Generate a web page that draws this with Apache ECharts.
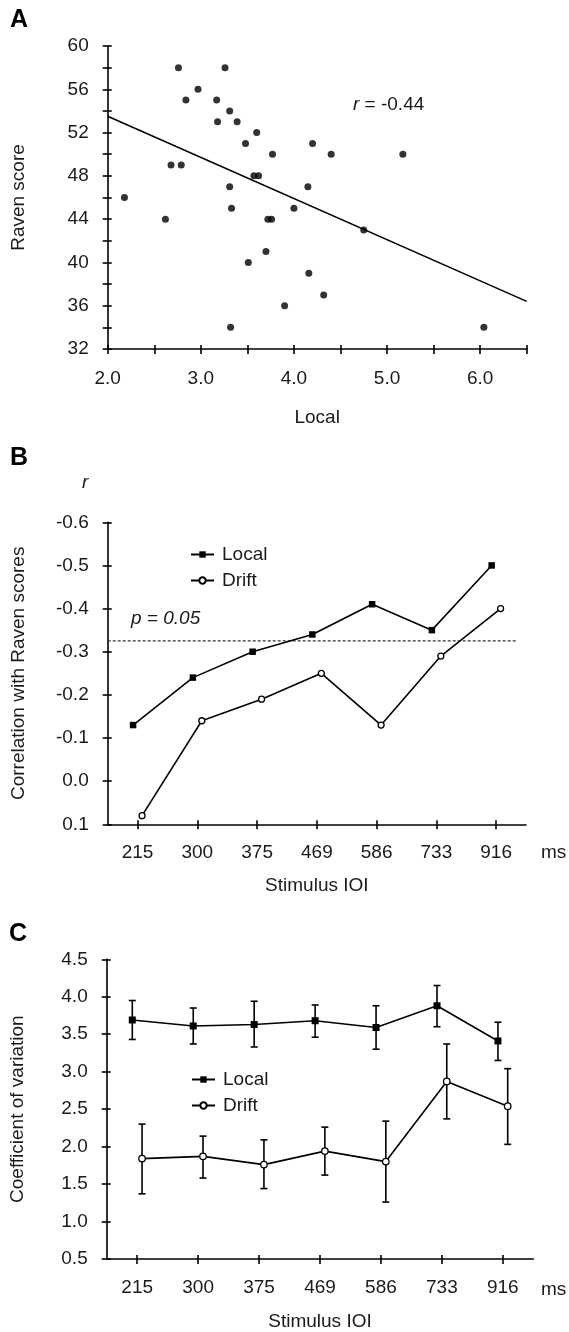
<!DOCTYPE html>
<html><head><meta charset="utf-8">
<script src="https://cdn.jsdelivr.net/npm/echarts@6/dist/echarts.min.js"></script>
<style>html,body{margin:0;padding:0;background:#fff}#c{width:569px;height:1332px}</style>
</head><body><div id="c"></div>
<script>
// ---- Panel A data ----
const localScore = [2.18,2.62,2.68,2.79,2.76,2.84,2.97,3.17,3.18,3.26,3.31,3.39,3.31,3.33,3.32,3.48,3.51,3.60,3.57,3.62,3.77,3.72,3.76,3.70,3.90,4.20,4.40,5.17,4.15,4.00,4.75,4.16,4.32,6.04];
const ravenScore = [46,44,49,49,58,55,56,55,53,58,54,53,47,45,34,51,40,52,48,48,50,44,44,41,36,51,50,50,47,45,43,39,37,34];
const fitX = [2.0, 6.5];
const fitY = [53.5, 36.4];
const rValue = '-0.44';
// ---- Panel B data ----
const ioi = ['215','300','375','469','586','733','916'];
const corrLocal = [-0.13,-0.24,-0.30,-0.34,-0.41,-0.35,-0.50];
const corrDrift = [0.08,-0.14,-0.19,-0.25,-0.13,-0.29,-0.40];
const pThreshold = -0.325;
const pLabel = 'p = 0.05';
// ---- Panel C data ----
const cvLocal   = [3.69,3.61,3.63,3.68,3.59,3.88,3.41];
const cvLocalLo = [3.43,3.37,3.33,3.46,3.30,3.60,3.15];
const cvLocalHi = [3.95,3.85,3.94,3.89,3.88,4.15,3.66];
const cvDrift   = [1.84,1.87,1.76,1.94,1.80,2.87,2.54];
const cvDriftLo = [1.37,1.58,1.44,1.62,1.26,2.37,2.03];
const cvDriftHi = [2.30,2.14,2.09,2.26,2.34,3.37,3.04];

const FONT = "'Liberation Sans', Arial, Helvetica, sans-serif";
const TXT = '#1a1a1a';
const INK = '#000';
const FS = 19;

const chart = echarts.init(document.getElementById('c'), null, {renderer:'canvas'});

const lineStyleAxis = {color: INK, width: 1.6};
function mainAxis(extra){
  return Object.assign({
    axisLine:{show:true, onZero:false, lineStyle:lineStyleAxis},
    axisTick:{show:true, length:5, lineStyle:lineStyleAxis},
    axisLabel:{color:TXT, fontSize:FS, fontFamily:FONT, margin:19},
    splitLine:{show:false},
    nameTextStyle:{color:TXT, fontSize:FS, fontFamily:FONT},
    nameLocation:'middle'
  }, extra);
}
function innerAxis(extra){
  return Object.assign({
    axisLine:{show:false, onZero:false},
    axisTick:{show:true, inside:true, length:4, lineStyle:lineStyleAxis},
    axisLabel:{show:false},
    splitLine:{show:false}
  }, extra);
}
const fmt1 = v => v.toFixed(1);

const shiftB = 0.075, shiftC = 0.08;
const idx = ioi.map((_, i) => i);

function errRender(params, api){
  const x = api.value(0), lo = api.value(1), hi = api.value(2);
  const p1 = api.coord([x, lo]), p2 = api.coord([x, hi]);
  const cap = 3.5;
  const st = {stroke: INK, lineWidth: 1.6};
  return {type:'group', children:[
    {type:'line', shape:{x1:p1[0], y1:p1[1], x2:p2[0], y2:p2[1]}, style:st},
    {type:'line', shape:{x1:p1[0]-cap, y1:p1[1], x2:p1[0]+cap, y2:p1[1]}, style:st},
    {type:'line', shape:{x1:p2[0]-cap, y1:p2[1], x2:p2[0]+cap, y2:p2[1]}, style:st}
  ]};
}

const legendBase = {orient:'vertical', itemWidth:23, itemHeight:8, itemGap:7,
  data:['Local','Drift'], selectedMode:false,
  textStyle:{color:TXT, fontSize:FS, fontFamily:FONT, padding:[0,0,0,3]}};

const option = {
  backgroundColor:'#fff',
  animation:false,
  textStyle:{fontFamily:FONT},
  grid:[
    {left:107.7, top:46, width:419, height:303},
    {left:107.7, top:522.3, width:418.3, height:302},
    {left:106.7, top:959.3, width:426.6, height:303.4}
  ],
  xAxis:[
    mainAxis({gridIndex:0, type:'value', position:'bottom', min:2, max:6.5, interval:0.5,
      axisLabel:{color:TXT, fontSize:FS, fontFamily:FONT, margin:20,
        formatter: v => Math.abs(v - Math.round(v)) < 1e-6 ? v.toFixed(1) : ''},
      name:'Local', nameGap:59}),
    innerAxis({gridIndex:0, type:'value', position:'bottom', min:2, max:6.5, interval:0.5}),
    mainAxis({gridIndex:1, type:'category', position:'bottom', data:ioi, boundaryGap:true,
      axisTick:{show:true, length:5, alignWithLabel:true, lineStyle:lineStyleAxis},
      name:'Stimulus IOI', nameGap:52}),
    innerAxis({gridIndex:1, type:'category', position:'bottom', data:ioi, boundaryGap:true,
      axisTick:{show:true, inside:true, length:4, alignWithLabel:true, lineStyle:lineStyleAxis}}),
    {gridIndex:1, type:'value', min:-0.5, max:6.5, show:false},
    mainAxis({gridIndex:2, type:'category', position:'bottom', data:ioi, boundaryGap:true,
      axisTick:{show:true, length:5, alignWithLabel:true, lineStyle:lineStyleAxis},
      name:'Stimulus IOI', nameGap:53}),
    innerAxis({gridIndex:2, type:'category', position:'bottom', data:ioi, boundaryGap:true,
      axisTick:{show:true, inside:true, length:4, alignWithLabel:true, lineStyle:lineStyleAxis}}),
    {gridIndex:2, type:'value', min:-0.5, max:6.5, show:false}
  ],
  yAxis:[
    mainAxis({gridIndex:0, type:'value', position:'left', min:32, max:60, interval:2,
      axisLabel:{color:TXT, fontSize:FS, fontFamily:FONT, margin:19,
        formatter: v => ((v - 32) % 4 === 0 ? String(v) : '')},
      name:'Raven score', nameGap:79}),
    innerAxis({gridIndex:0, type:'value', position:'left', min:32, max:60, interval:2}),
    mainAxis({gridIndex:1, type:'value', position:'left', min:-0.6, max:0.1, interval:0.1, inverse:true,
      axisLabel:{color:TXT, fontSize:FS, fontFamily:FONT, margin:19, formatter: fmt1},
      name:'Correlation with Raven scores', nameGap:79}),
    innerAxis({gridIndex:1, type:'value', position:'left', min:-0.6, max:0.1, interval:0.1, inverse:true}),
    mainAxis({gridIndex:2, type:'value', position:'left', min:0.5, max:4.5, interval:0.5,
      axisLabel:{color:TXT, fontSize:FS, fontFamily:FONT, margin:19, formatter: fmt1},
      name:'Coefficient of variation', nameGap:79}),
    innerAxis({gridIndex:2, type:'value', position:'left', min:0.5, max:4.5, interval:0.5})
  ],
  legend:[
    Object.assign({left:185, top:540}, legendBase),
    Object.assign({left:186, top:1065}, legendBase)
  ],
  series:[
    {type:'scatter', name:'Subjects', xAxisIndex:0, yAxisIndex:0, symbol:'circle', symbolSize:7,
      itemStyle:{color:INK}, data: localScore.map((x, i) => [x, ravenScore[i]])},
    {type:'line', name:'Fit', xAxisIndex:0, yAxisIndex:0, symbol:'none',
      lineStyle:{color:INK, width:1.6}, data: fitX.map((x, i) => [x, fitY[i]])},
    {type:'line', name:'p threshold', xAxisIndex:4, yAxisIndex:2, symbol:'none',
      lineStyle:{color:'#333', width:1.2, type:[3,2]},
      data: [[-0.5, pThreshold],[6.34, pThreshold]]},
    {type:'line', name:'Local', xAxisIndex:4, yAxisIndex:2, symbol:'rect', symbolSize:6.5,
      itemStyle:{color:INK}, lineStyle:{color:INK, width:1.6}, z:3,
      data: idx.map(i => [i - shiftB, corrLocal[i]])},
    {type:'line', name:'Drift', xAxisIndex:4, yAxisIndex:2, symbol:'circle', symbolSize:6,
      itemStyle:{color:'#fff', borderColor:INK, borderWidth:1.3}, lineStyle:{color:INK, width:1.6}, z:3,
      data: idx.map(i => [i + shiftB, corrDrift[i]])},
    {type:'custom', name:'Local SE', xAxisIndex:7, yAxisIndex:4, renderItem:errRender,
      encode:{x:0, y:[1,2]}, z:2,
      data: idx.map(i => [i - shiftC, cvLocalLo[i], cvLocalHi[i]])},
    {type:'custom', name:'Drift SE', xAxisIndex:7, yAxisIndex:4, renderItem:errRender,
      encode:{x:0, y:[1,2]}, z:2,
      data: idx.map(i => [i + shiftC, cvDriftLo[i], cvDriftHi[i]])},
    {type:'line', name:'Local', xAxisIndex:7, yAxisIndex:4, symbol:'rect', symbolSize:7,
      itemStyle:{color:INK}, lineStyle:{color:INK, width:1.6}, z:3,
      data: idx.map(i => [i - shiftC, cvLocal[i]])},
    {type:'line', name:'Drift', xAxisIndex:7, yAxisIndex:4, symbol:'circle', symbolSize:6.5,
      itemStyle:{color:'#fff', borderColor:INK, borderWidth:1.3}, lineStyle:{color:INK, width:1.6}, z:3,
      data: idx.map(i => [i + shiftC, cvDrift[i]])}
  ],
  graphic:[
    {type:'text', x:10, y:20, style:{text:'A', fontSize:25, fontWeight:'bold', fontFamily:FONT, fill:INK, verticalAlign:'middle'}},
    {type:'text', x:10, y:458, style:{text:'B', fontSize:25, fontWeight:'bold', fontFamily:FONT, fill:INK, verticalAlign:'middle'}},
    {type:'text', x:9, y:934, style:{text:'C', fontSize:25, fontWeight:'bold', fontFamily:FONT, fill:INK, verticalAlign:'middle'}},
    {type:'text', x:353, y:105, style:{text:'{i|r} = ' + rValue, fontSize:FS, fontFamily:FONT, fill:TXT, verticalAlign:'middle',
      rich:{i:{fontStyle:'italic', fontSize:FS, fontFamily:FONT, fill:TXT}}}},
    {type:'text', x:82, y:483, style:{text:'r', fontSize:FS, fontStyle:'italic', fontFamily:FONT, fill:TXT, verticalAlign:'middle'}},
    {type:'text', x:131, y:619, style:{text:pLabel, fontSize:FS, fontStyle:'italic', fontFamily:FONT, fill:TXT, verticalAlign:'middle'}},
    {type:'text', x:541, y:853, style:{text:'ms', fontSize:FS, fontFamily:FONT, fill:TXT, verticalAlign:'middle'}},
    {type:'text', x:541, y:1290, style:{text:'ms', fontSize:FS, fontFamily:FONT, fill:TXT, verticalAlign:'middle'}}
  ]
};
chart.setOption(option);
</script>
</body></html>
